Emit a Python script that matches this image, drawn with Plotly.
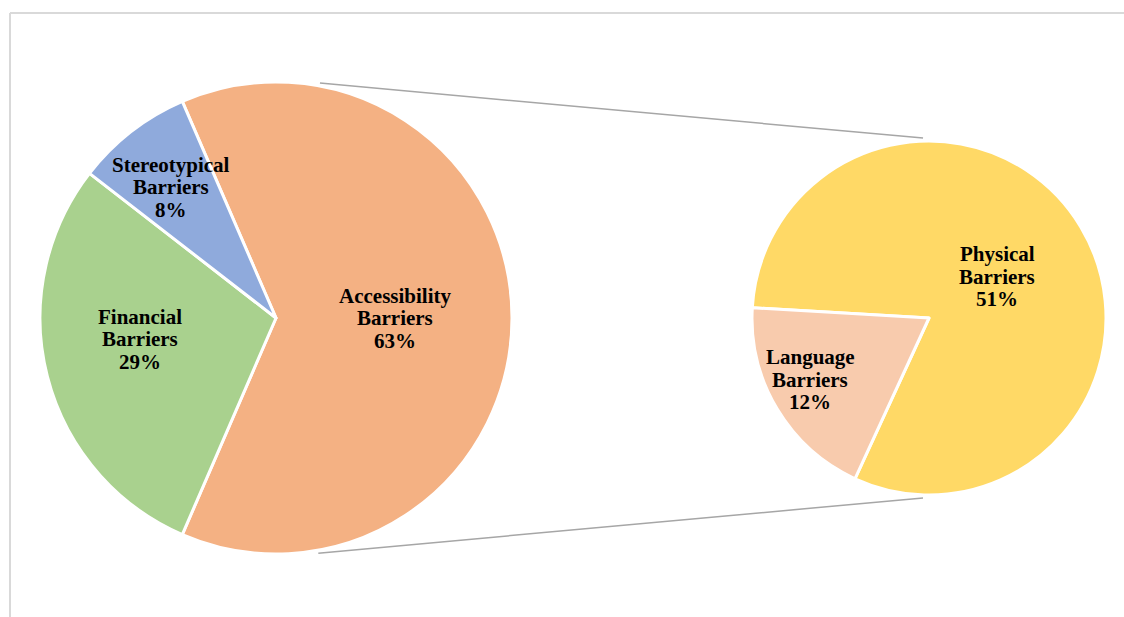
import math
import plotly.graph_objects as go

# ---- data ----
main_labels = ["Accessibility Barriers", "Financial Barriers", "Stereotypical Barriers"]
main_values = [63, 29, 8]
main_colors = ["#F4B183", "#A9D18E", "#8FAADC"]

sub_labels = ["Physical Barriers", "Language Barriers"]
sub_values = [51, 12]
sub_colors = ["#FFD966", "#F8CBAD"]

W, H = 1124, 617

# ---- layout geometry (pixels) ----
main_c, main_r, main_rot = (276, 318), 236, -23.4
sub_c, sub_r, sub_rot = (929, 318), 177, 273.3

# label placement: (angle nudge in deg, radius fraction)
main_lab_pos = [(0.0, 0.504), (5.6, 0.583), (-0.9, 0.711)]
sub_lab_pos = [(-0.1, 0.449), (3.5, 0.756)]


def px2paper(x, y):
    return x / W, 1 - y / H


def domain(c, r):
    x0, y0 = px2paper(c[0] - r, c[1] + r)
    x1, y1 = px2paper(c[0] + r, c[1] - r)
    return dict(x=[x0, x1], y=[y0, y1])


def point(c, r, ang):
    a = math.radians(ang)
    return c[0] + r * math.sin(a), c[1] - r * math.cos(a)


fig = go.Figure()
fig.add_trace(go.Pie(
    labels=main_labels, values=main_values, sort=False, direction="clockwise",
    rotation=main_rot, marker=dict(colors=main_colors, line=dict(color="white", width=3)),
    textinfo="none", domain=domain(main_c, main_r), showlegend=False,
))
fig.add_trace(go.Pie(
    labels=sub_labels, values=sub_values, sort=False, direction="clockwise",
    rotation=sub_rot, marker=dict(colors=sub_colors, line=dict(color="white", width=3)),
    textinfo="none", domain=domain(sub_c, sub_r), showlegend=False,
))

annotations = []
total = sum(main_values)


def add_labels(labels, values, c, r, rot, pos, pct_total):
    s = sum(values)
    cum = 0
    for lab, v, (nudge, frac) in zip(labels, values, pos):
        mid = rot + (cum + v / 2) / s * 360 + nudge
        cum += v
        x, y = point(c, r * frac, mid)
        lines = lab.split(" ") + [f"{round(v / pct_total * 100)}%"]
        n = len(lines)
        for i, t in enumerate(lines):
            px, py = x, y + (i - (n - 1) / 2) * 22.5
            xp, yp = px2paper(px, py)
            annotations.append(dict(
                x=xp, y=yp, xref="paper", yref="paper", text=t, showarrow=False,
                xanchor="center", yanchor="middle",
                font=dict(family="Liberation Serif", size=21, color="#000000", weight="bold"),
            ))


add_labels(main_labels, main_values, main_c, main_r, main_rot, main_lab_pos, total)
add_labels(sub_labels, sub_values, sub_c, sub_r, sub_rot, sub_lab_pos, total)

shapes = []
# connector lines
for a1, a2 in [(10.6, -1.9), (169.8, 181.9)]:
    x0, y0 = point(main_c, main_r + 3, a1)
    x1, y1 = point(sub_c, sub_r + 3, a2)
    p0 = px2paper(x0, y0)
    p1 = px2paper(x1, y1)
    shapes.append(dict(type="line", xref="paper", yref="paper", x0=p0[0], y0=p0[1],
                       x1=p1[0], y1=p1[1], line=dict(color="#A6A6A6", width=1.5)))

# chart frame (top and left edges visible)
fx, fy = px2paper(10, 13)
shapes.append(dict(type="line", xref="paper", yref="paper", x0=fx, y0=fy, x1=1.01, y1=fy,
                   line=dict(color="#D9D9D9", width=2)))
shapes.append(dict(type="line", xref="paper", yref="paper", x0=fx, y0=fy, x1=fx, y1=-0.01,
                   line=dict(color="#D9D9D9", width=2)))

fig.update_layout(
    width=W, height=H, margin=dict(l=0, r=0, t=0, b=0),
    paper_bgcolor="white", plot_bgcolor="white",
    annotations=annotations, shapes=shapes, showlegend=False,
)

fig.write_html("out.html")
